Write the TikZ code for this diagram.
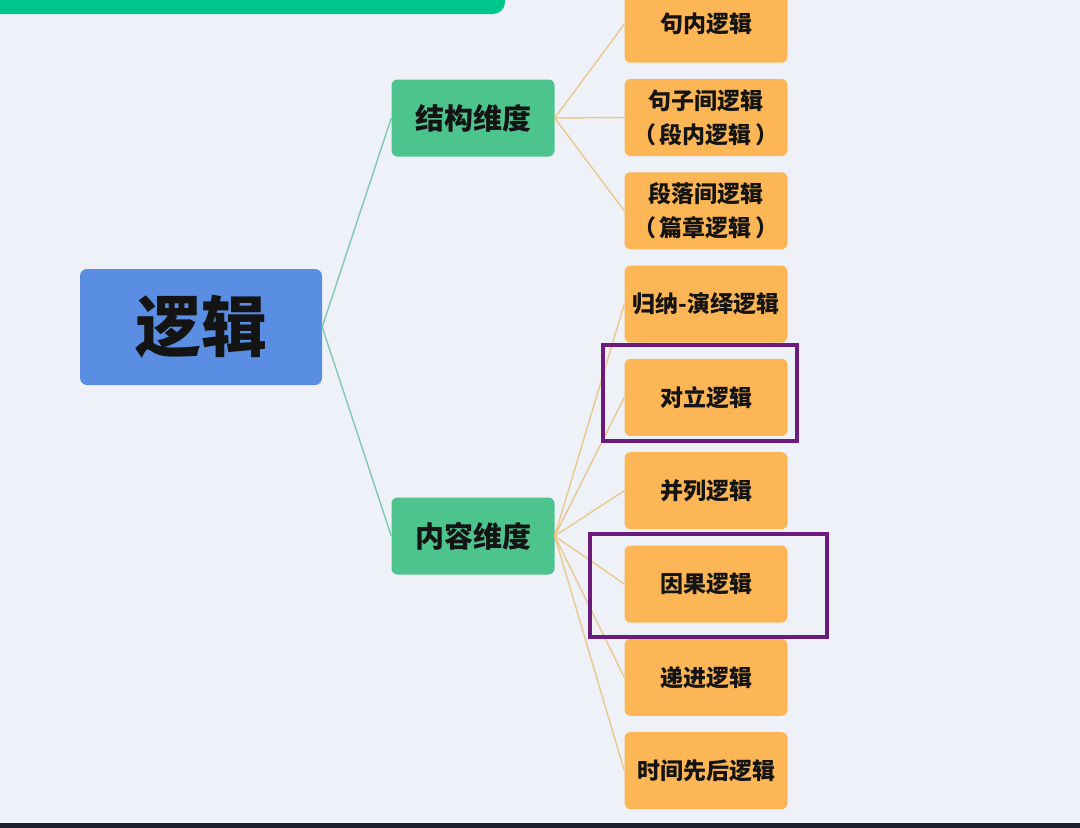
\documentclass[tikz,border=0pt]{standalone}
\usepackage{fontspec}
\usepackage{xcolor}
\usepackage{tikz}
\newfontfamily\cjk{Noto Sans CJK SC}
\definecolor{bgpale}{HTML}{EEF1F7}
\definecolor{bluebox}{HTML}{5A8EE2}
\definecolor{greenbox}{HTML}{4DC48D}
\definecolor{orangebox}{HTML}{FDB655}
\definecolor{greenbar}{HTML}{00C68A}
\definecolor{purplemark}{HTML}{6A1B7C}
\definecolor{tealline}{HTML}{7FC9B2}
\definecolor{tanline}{HTML}{E8C88C}
\definecolor{darkbar}{HTML}{1E2230}
\colorlet{darktext}{black!92}
\tikzset{every node/.append style={text=darktext}}
\tikzset{
  rootbox/.style={fill=bluebox,rounded corners=7pt,inner sep=0pt,
    minimum width=242pt,minimum height=116pt,
    font=\cjk\bfseries\fontsize{66}{72}\selectfont},
  dimbox/.style={fill=greenbox,rounded corners=6pt,inner sep=0pt,
    minimum width=163pt,minimum height=77pt,
    font=\cjk\bfseries\fontsize{29}{34}\selectfont},
  leafbox/.style={fill=orangebox,rounded corners=6pt,inner sep=0pt,
    minimum width=163pt,minimum height=77pt,align=center,
    font=\cjk\bfseries\fontsize{23}{34}\selectfont},
  markbox/.style={draw=purplemark,line width=3.6pt},
}

\begin{document}
\begin{tikzpicture}[x=1pt,y=-1pt]
  \useasboundingbox (0,0) rectangle (1080,828);
  \fill[bgpale] (0,0) rectangle (1080,828);
  \fill[greenbar,rounded corners=12pt] (-30,-40) rectangle (505,14);
  \fill[darkbar] (0,823) rectangle (1080,828);

  \node[rootbox] (root) at (201,327) {逻辑};
  \node[dimbox] (struct) at (473,118) {结构维度};
  \node[dimbox] (content) at (473,536) {内容维度};

  \foreach \txt [count=\i] in {句内逻辑,{句子间逻辑\\（\,段内逻辑\,）},
      {段落间逻辑\\（\,篇章逻辑\,）},归纳-演绎逻辑,对立逻辑,并列逻辑,
      因果逻辑,递进逻辑,时间先后逻辑}
    \node[leafbox] (leaf\i) at (706,24.2+93.3*\i-93.3) {\txt};

  \draw[tealline,line width=1.4pt] (root.east) -- (struct.west);
  \draw[tealline,line width=1.4pt] (root.east) -- (content.west);
  \foreach \i in {1,2,3}
    \draw[tanline,line width=1.4pt] (struct.east) -- (leaf\i.west);
  \foreach \i in {4,...,9}
    \draw[tanline,line width=1.4pt] (content.east) -- (leaf\i.west);

  % highlighted items
  \draw[markbox] (603,345) rectangle (797,441);
  \draw[markbox] (590,534) rectangle (827,637);
\end{tikzpicture}
\end{document}
